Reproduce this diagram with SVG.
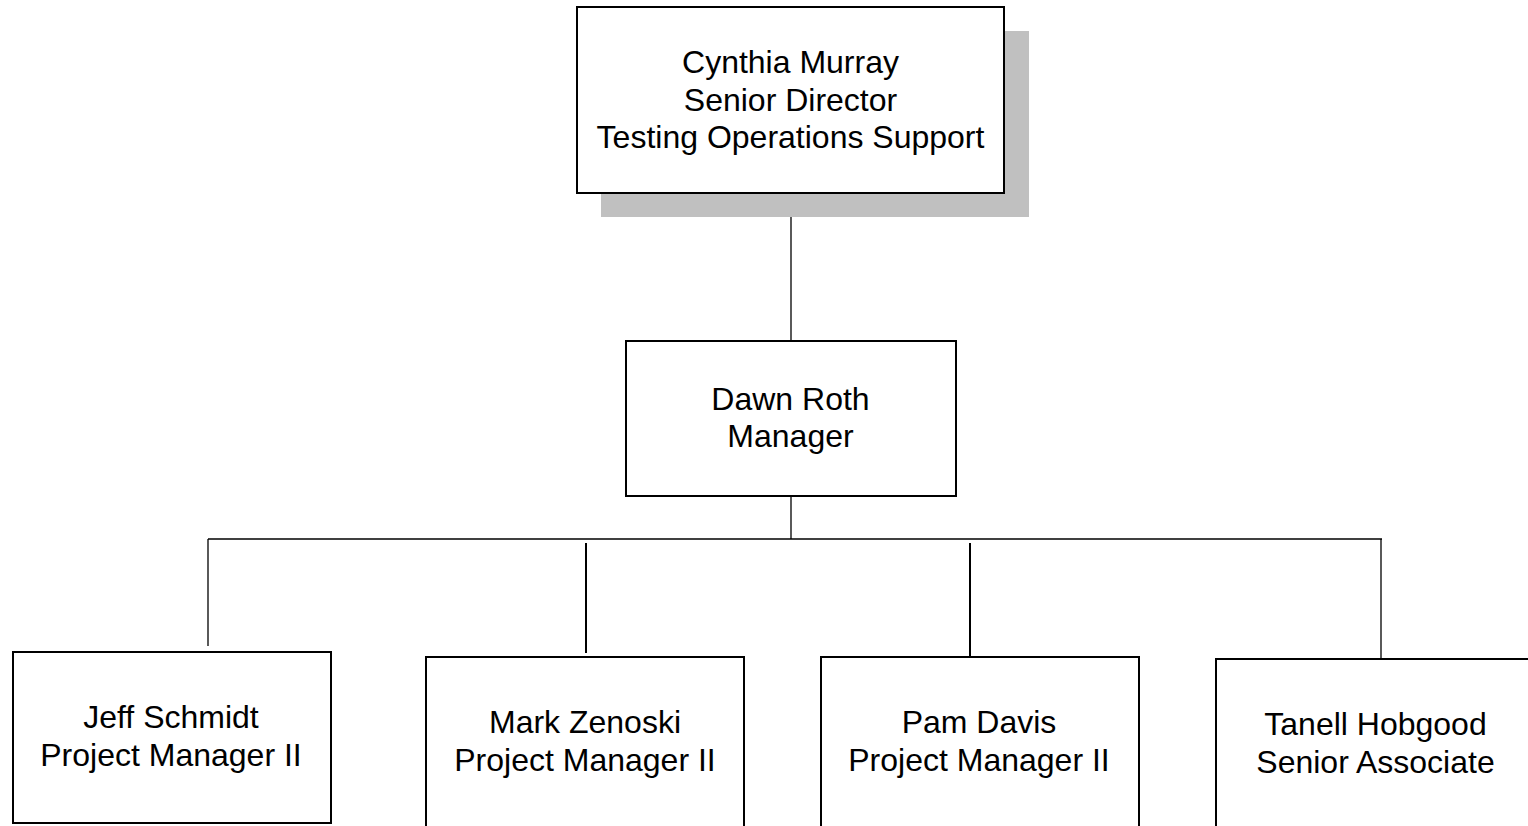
<svg xmlns="http://www.w3.org/2000/svg" width="1528" height="826" viewBox="0 0 1528 826">
<style>
.box{fill:#fff;stroke:#000;stroke-width:2}
.shadow{fill:#c0c0c0}
.t{font-family:"Liberation Sans",Arial,sans-serif;font-size:32px;fill:#000;text-anchor:middle}
.c{stroke:#000;stroke-width:1.3;fill:none}
.c2{stroke:#000;stroke-width:2;fill:none}
</style>
<rect width="1528" height="826" fill="#fff"/>
<g id="connectors">
<line class="c" x1="791" y1="193" x2="791" y2="341"/>
<line class="c" x1="791" y1="496" x2="791" y2="539"/>
<line class="c" x1="208" y1="539" x2="1382" y2="539"/>
<line class="c" x1="208" y1="539" x2="208" y2="646"/>
<line class="c2" x1="586" y1="543" x2="586" y2="653"/>
<line class="c2" x1="970" y1="543" x2="970" y2="657"/>
<line class="c" x1="1381" y1="539" x2="1381" y2="661"/>
</g>
<g id="cynthia">
<rect class="shadow" x="601" y="31" width="428" height="186"/>
<rect class="box" x="577" y="7" width="427" height="186"/>
<text class="t" x="790.5" y="73">Cynthia Murray</text>
<text class="t" x="790.5" y="110.5">Senior Director</text>
<text class="t" x="790.5" y="148">Testing Operations Support</text>
</g>
<g id="dawn">
<rect class="box" x="626" y="341" width="330" height="155"/>
<text class="t" x="790.5" y="410">Dawn Roth</text>
<text class="t" x="790.5" y="447">Manager</text>
</g>
<g id="jeff">
<rect class="box" x="13" y="652" width="318" height="171"/>
<text class="t" x="171" y="728">Jeff Schmidt</text>
<text class="t" x="171" y="766">Project Manager II</text>
</g>
<g id="mark">
<rect class="box" x="426" y="657" width="318" height="190"/>
<text class="t" x="585" y="733">Mark Zenoski</text>
<text class="t" x="585" y="771">Project Manager II</text>
</g>
<g id="pam">
<rect class="box" x="821" y="657" width="318" height="190"/>
<text class="t" x="979" y="733">Pam Davis</text>
<text class="t" x="979" y="771">Project Manager II</text>
</g>
<g id="tanell">
<rect class="box" x="1216" y="659" width="330" height="190"/>
<text class="t" x="1375.5" y="735">Tanell Hobgood</text>
<text class="t" x="1375.5" y="773">Senior Associate</text>
</g>
</svg>
